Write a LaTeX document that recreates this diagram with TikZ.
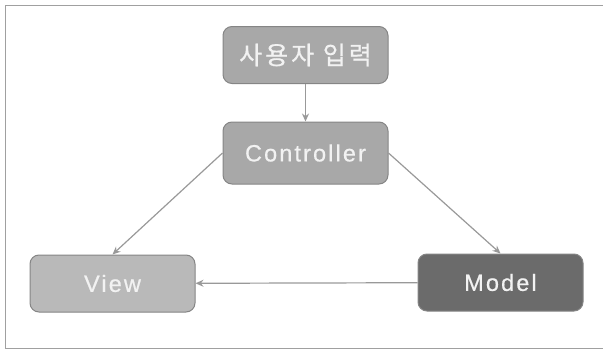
\documentclass[tikz,border=0pt]{standalone}
\usepackage{fontspec}
\setmainfont{Liberation Sans}
\newfontfamily\boxfont[LetterSpace=9,FakeBold=0.6]{Liberation Sans}
\newfontfamily\krfont[LetterSpace=12,FakeBold=0.6]{Noto Sans CJK KR}
\usetikzlibrary{arrows.meta}
\definecolor{framegray}{HTML}{A0A0A0}
\definecolor{boxline}{HTML}{858585}
\definecolor{boxtext}{HTML}{F2F2F2}
\definecolor{midbox}{HTML}{A8A8A8}
\definecolor{lightbox}{HTML}{B9B9B9}
\definecolor{darkbox}{HTML}{6B6B6B}
\definecolor{linkgray}{HTML}{999999}

\begin{document}
\begin{tikzpicture}[x=1pt,y=-1pt,
  box/.style={draw=boxline, line width=1pt, rounded corners=9pt, minimum width=165pt,
    minimum height=57pt, text=boxtext, font=\fontsize{23.5}{27}\selectfont\boxfont},
  link/.style={draw=linkgray, line width=1.2pt, -{Stealth[length=8pt,width=7pt]}}]
\useasboundingbox (0,0) rectangle (603,351);
% outer frame
\draw[framegray, line width=1pt] (603,5) -- (5,5) -- (5,348) -- (603,348);
\node[box, fill=midbox] (input) at (305.5,55) {\fontsize{25}{29}\krfont 사용자 입력};
\node[box, fill=midbox, minimum height=62pt] (ctrl) at (305.5,153) {Controller};
\node[box, fill=lightbox] (view) at (112.5,283.5) {View};
\node[box, fill=darkbox] (model) at (500.5,282.5) {Model};
\draw[link] (input) -- (ctrl);
\draw[link] (ctrl.west) -- (view.north);
\draw[link] (ctrl.east) -- (model.north);
\draw[link] (model) -- (view);
\end{tikzpicture}
\end{document}
